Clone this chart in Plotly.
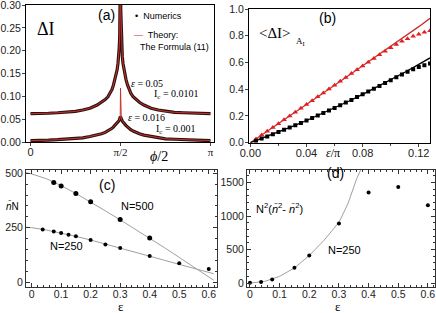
import plotly.graph_objects as go

W, H = 436, 313
def px(x): return x / W
def py(y): return 1 - y / H

# ---------------- panel (a) data: phi/2 in units of pi ----------------
a_phi = [0.0, 0.05, 0.10, 0.15, 0.20, 0.25, 0.29, 0.33, 0.37, 0.395, 0.415, 0.43, 0.443, 0.453,
         0.461, 0.469, 0.476, 0.481, 0.486, 0.490, 0.493, 0.4955, 0.497, 0.4985, 0.5,
         0.5015, 0.503, 0.5045, 0.507, 0.510, 0.514, 0.519, 0.524, 0.531, 0.539, 0.547,
         0.557, 0.57, 0.585, 0.605, 0.63, 0.67, 0.71, 0.75, 0.80, 0.85, 0.90, 0.95, 1.0]
a_num_high = [0.062, 0.062, 0.063, 0.064, 0.065, 0.067, 0.070, 0.074, 0.081, 0.087, 0.093, 0.099, 0.107, 0.115,
              0.125, 0.136, 0.147, 0.158, 0.172, 0.188, 0.208, 0.23, 0.255, 0.29, 0.40,
              0.29, 0.255, 0.23, 0.208, 0.188, 0.172, 0.158, 0.147, 0.136, 0.125, 0.115,
              0.107, 0.099, 0.093, 0.087, 0.081, 0.074, 0.070, 0.067, 0.065, 0.064, 0.063, 0.062, 0.062]
a_theo_high = a_num_high
a_num_low = [0.003, 0.003, 0.004, 0.005, 0.006, 0.007, 0.009, 0.012, 0.015, 0.018, 0.021, 0.024, 0.027, 0.030,
             0.033, 0.036, 0.039, 0.041, 0.044, 0.046, 0.048, 0.050, 0.052, 0.054, 0.056,
             0.054, 0.052, 0.050, 0.048, 0.046, 0.044, 0.041, 0.039, 0.036, 0.033, 0.030,
             0.027, 0.024, 0.021, 0.018, 0.015, 0.012, 0.009, 0.007, 0.006, 0.005, 0.004, 0.003, 0.003]
a_theo_low = [0.003, 0.003, 0.004, 0.005, 0.006, 0.007, 0.009, 0.012, 0.015, 0.018, 0.021, 0.024, 0.027, 0.030,
              0.033, 0.036, 0.039, 0.041, 0.044, 0.046, 0.048, 0.050, 0.052, 0.054, 0.118,
              0.054, 0.052, 0.050, 0.048, 0.046, 0.044, 0.041, 0.039, 0.036, 0.033, 0.030,
              0.027, 0.024, 0.021, 0.018, 0.015, 0.012, 0.009, 0.007, 0.006, 0.005, 0.004, 0.003, 0.003]

# ---------------- panel (b) data ----------------
b_red_line_x = [0, 0.02, 0.04, 0.06, 0.08, 0.10, 0.12, 0.128]
b_red_line_y = [0, 0.142, 0.285, 0.43, 0.575, 0.72, 0.868, 0.93]
b_blk_line_x = [0, 0.01, 0.02, 0.03, 0.04, 0.05, 0.06, 0.07, 0.08, 0.09, 0.10, 0.11, 0.12, 0.128]
b_blk_line_y = [0, 0.039, 0.080, 0.122, 0.166, 0.213, 0.260, 0.310, 0.362, 0.415, 0.470, 0.527, 0.586, 0.634]
b_pts_x = [0.004, 0.008, 0.012, 0.016, 0.020, 0.024, 0.028, 0.032, 0.036, 0.040, 0.044, 0.048,
           0.052, 0.056, 0.060, 0.064, 0.068, 0.072, 0.076, 0.080, 0.084, 0.088, 0.092, 0.096,
           0.100, 0.104, 0.108, 0.112, 0.116, 0.120, 0.124, 0.128]
b_tri_y = [0.028, 0.057, 0.085, 0.114, 0.142, 0.171, 0.199, 0.228, 0.257, 0.285, 0.314, 0.343,
           0.372, 0.401, 0.430, 0.459, 0.488, 0.517, 0.546, 0.574, 0.602, 0.630, 0.657, 0.684,
           0.710, 0.735, 0.758, 0.778, 0.796, 0.812, 0.826, 0.838]
b_sq_y = [0.015, 0.031, 0.047, 0.063, 0.080, 0.096, 0.113, 0.131, 0.148, 0.166, 0.185, 0.203,
          0.222, 0.241, 0.260, 0.280, 0.300, 0.320, 0.341, 0.362, 0.383, 0.404, 0.425, 0.446,
          0.468, 0.489, 0.510, 0.530, 0.549, 0.566, 0.580, 0.592]

# ---------------- panel (c) data ----------------
c_line500_x = [-0.02, 0, 0.05, 0.1, 0.15, 0.2, 0.25, 0.3, 0.35, 0.4, 0.45, 0.5, 0.55, 0.6, 0.617]
c_line500_y = [503, 497, 475, 443, 407, 368, 327, 286, 244, 202, 158, 113, 68, 23, 8]
c_line250_x = [-0.02, 0, 0.05, 0.1, 0.15, 0.2, 0.25, 0.3, 0.35, 0.4, 0.45, 0.5, 0.55, 0.6, 0.617]
c_line250_y = [252, 250, 239, 226, 210, 193, 175, 157, 138, 119, 100, 81, 62, 44, 38]
c_dots500_x = [0.075, 0.1, 0.15, 0.2, 0.3, 0.4]
c_dots500_y = [457, 442, 407, 369, 287, 202]
c_dots250_x = [0.0375, 0.075, 0.1, 0.125, 0.15, 0.2, 0.25, 0.3, 0.4, 0.5, 0.6]
c_dots250_y = [241, 232, 225, 217, 210, 193, 173, 156, 120, 86, 60]

# ---------------- panel (d) data ----------------
d_dots_x = [0, 0.0375, 0.075, 0.15, 0.2, 0.3, 0.4, 0.5, 0.6]
d_dots_y = [5, 15, 54, 228, 411, 891, 1351, 1436, 1163]
d_line_x = [0, 0.05, 0.1, 0.15, 0.2, 0.25, 0.3, 0.33, 0.36, 0.39]
d_line_y = [0, 25, 100, 226, 410, 640, 905, 1180, 1560, 1850]

RED = "#c8322b"
DARK = "#2e1212"
GRAY = "#a0a0a0"
SANS = "Liberation Sans"
SERIF = "Liberation Serif"

fig = go.Figure()
# (a)
for yy in (a_num_high, a_num_low):
    fig.add_trace(go.Scatter(x=a_phi, y=yy, mode="lines", line=dict(color=DARK, width=3.2),
                             xaxis="x", yaxis="y", showlegend=False, hoverinfo="skip"))
for yy in (a_theo_high, a_theo_low):
    fig.add_trace(go.Scatter(x=a_phi, y=yy, mode="lines", line=dict(color=RED, width=1),
                             xaxis="x", yaxis="y", showlegend=False, hoverinfo="skip"))
# (b)
fig.add_trace(go.Scatter(x=b_red_line_x, y=b_red_line_y, mode="lines", line=dict(color=RED, width=1.3),
                         xaxis="x2", yaxis="y2", showlegend=False))
fig.add_trace(go.Scatter(x=b_blk_line_x, y=b_blk_line_y, mode="lines", line=dict(color="black", width=1.3),
                         xaxis="x2", yaxis="y2", showlegend=False))
fig.add_trace(go.Scatter(x=b_pts_x, y=b_tri_y, mode="markers",
                         marker=dict(symbol="triangle-up", color="#e02020", size=5),
                         xaxis="x2", yaxis="y2", showlegend=False))
fig.add_trace(go.Scatter(x=b_pts_x, y=b_sq_y, mode="markers",
                         marker=dict(symbol="square", color="black", size=4),
                         xaxis="x2", yaxis="y2", showlegend=False))
# (c)
fig.add_trace(go.Scatter(x=c_line500_x, y=c_line500_y, mode="lines", line=dict(color=GRAY, width=1),
                         xaxis="x3", yaxis="y3", showlegend=False))
fig.add_trace(go.Scatter(x=c_line250_x, y=c_line250_y, mode="lines", line=dict(color=GRAY, width=1),
                         xaxis="x3", yaxis="y3", showlegend=False))
fig.add_trace(go.Scatter(x=c_dots500_x, y=c_dots500_y, mode="markers", marker=dict(color="black", size=5),
                         xaxis="x3", yaxis="y3", showlegend=False))
fig.add_trace(go.Scatter(x=c_dots250_x, y=c_dots250_y, mode="markers", marker=dict(color="black", size=4),
                         xaxis="x3", yaxis="y3", showlegend=False))
# (d)
fig.add_trace(go.Scatter(x=d_line_x, y=d_line_y, mode="lines", line=dict(color=GRAY, width=1),
                         xaxis="x4", yaxis="y4", showlegend=False))
fig.add_trace(go.Scatter(x=d_dots_x, y=d_dots_y, mode="markers", marker=dict(color="black", size=4),
                         xaxis="x4", yaxis="y4", showlegend=False))

tickfont = dict(family=SANS, size=10.5, color="#222")
frame = dict(showline=True, linecolor="black", linewidth=1, mirror=True, showgrid=False, zeroline=False,
             automargin=False, ticklabeloverflow="allow")
mframe = dict(showline=True, linecolor="#333", linewidth=1, mirror="ticks", showgrid=False, zeroline=False,
              automargin=False, ticks="inside", ticklen=4, tickcolor="#333", ticklabeloverflow="allow",
              tickfont=dict(family=SANS, size=10.5, color="#222"))

fig.update_layout(
    width=W, height=H, margin=dict(l=0, r=0, t=0, b=0, autoexpand=False),
    paper_bgcolor="white", plot_bgcolor="white", showlegend=False,
    xaxis=dict(domain=[px(26), px(214)], range=[-0.025, 1.0195], anchor="y",
               tickvals=[0, 0.5, 1],
               ticktext=["0", '<span style="font-family:Liberation Serif">π/2</span>',
                         '<span style="font-family:Liberation Serif">π</span>'],
               ticks="outside", ticklen=3, ticklabelstandoff=-3,
               tickfont=dict(family=SANS, size=11, color="#222"), **frame),
    yaxis=dict(domain=[py(142), py(5)], range=[0, 0.30], anchor="x", dtick=0.05, tickformat=".2f",
               ticks="outside", ticklen=3, ticklabelstandoff=-1, tickfont=tickfont, **frame),
    xaxis2=dict(domain=[px(249), px(430)], range=[-0.001, 0.128], anchor="y2", dtick=0.04, tickformat=".2f",
                ticks="outside", ticklen=3, ticklabelstandoff=-3, tickfont=dict(family=SANS, size=11, color="#222"),
                minor=dict(dtick=0.02, ticks="outside", ticklen=2), **frame),
    yaxis2=dict(domain=[py(142.7), py(9)], range=[0, 1.0], anchor="x2", dtick=0.2, tickformat=".1f",
                ticks="outside", ticklen=3, ticklabelstandoff=-1, tickfont=tickfont, **frame),
    xaxis3=dict(domain=[px(26), px(217)], range=[-0.019, 0.628], anchor="y3",
                tickvals=[0, 0.1, 0.2, 0.3, 0.4, 0.5, 0.6], ticktext=["0", "0.1", "0.2", "0.3", "0.4", "0.5", "0.6"],
                ticklabelstandoff=-3,
                minor=dict(dtick=0.02, ticks="inside", ticklen=2, tickcolor="#333"), **mframe),
    yaxis3=dict(domain=[py(287), py(170)], range=[-23, 515], anchor="x3", tickvals=[0, 250, 500],
                minor=dict(dtick=50, ticks="inside", ticklen=2, tickcolor="#333"), **mframe),
    xaxis4=dict(domain=[px(247), px(435)], range=[-0.01, 0.624], anchor="y4",
                tickvals=[0, 0.1, 0.2, 0.3, 0.4, 0.5, 0.6], ticktext=["0", "0.1", "0.2", "0.3", "0.4", "0.5", "0.6"],
                ticklabelstandoff=-3,
                minor=dict(dtick=0.02, ticks="inside", ticklen=2, tickcolor="#333"), **mframe),
    yaxis4=dict(domain=[py(287), py(170)], range=[-59, 1688], anchor="x4", tickvals=[0, 500, 1000, 1500],
                minor=dict(dtick=100, ticks="inside", ticklen=2, tickcolor="#333"), **mframe),
)

def ann(x, y, text, size=10, family=SANS, xanchor="center", color="black"):
    fig.add_annotation(x=px(x), y=py(y), xref="paper", yref="paper", text=text, showarrow=False,
                       xanchor=xanchor, yanchor="middle", font=dict(family=family, size=size, color=color))

# (a) labels
ann(46, 29, "ΔI", 18, SERIF)
ann(106, 15, "(a)", 14)
ann(133, 16, "•  Numerics", 9, xanchor="left")
ann(132, 35, '<span style="color:#c8322b">—</span>  Theory:', 9, xanchor="left")
ann(138, 47, "The Formula (11)", 9, xanchor="left")
ann(146.5, 83, "<i>ε</i> = 0.05", 10, SERIF)
ann(176, 94, "I<sub>c</sub> = 0.0101", 10, SERIF)
ann(146, 117, "<i>ε</i> = 0.016", 10, SERIF)
ann(175.5, 129, "I<sub>c</sub> = 0.001", 10, SERIF)
ann(159, 156, "<i>ϕ</i>/2", 14, SERIF)
# (b) labels
ann(327, 18, "(b)", 14)
ann(275, 33, "&lt;ΔI&gt;", 15, SERIF)
ann(300, 41, "A<sub>I</sub>", 9, SERIF)
ann(333, 153, "<i>ε</i>/π", 12, SERIF)
# (c) labels
ann(107, 185, "(c)", 14)
ann(137, 206, "N=500", 11)
ann(66, 246, "N=250", 11)
ann(12, 206, "<i>n̄</i>N", 10)
ann(121, 306, "ε", 13, SERIF)
# (d) labels
ann(335, 173, "(d)", 14)
ann(344, 250, "N=250", 11)
ann(279, 208, "N<sup>2</sup>(<i>n̄</i><sup>2</sup>- <i>n̄</i><sup>2</sup>)", 11)
ann(338, 306, "ε", 13, SERIF)

fig.write_html("out.html", config={"displayModeBar": False},
               post_script="document.body.style.margin='0';document.body.style.padding='0';document.body.style.overflow='hidden';")
